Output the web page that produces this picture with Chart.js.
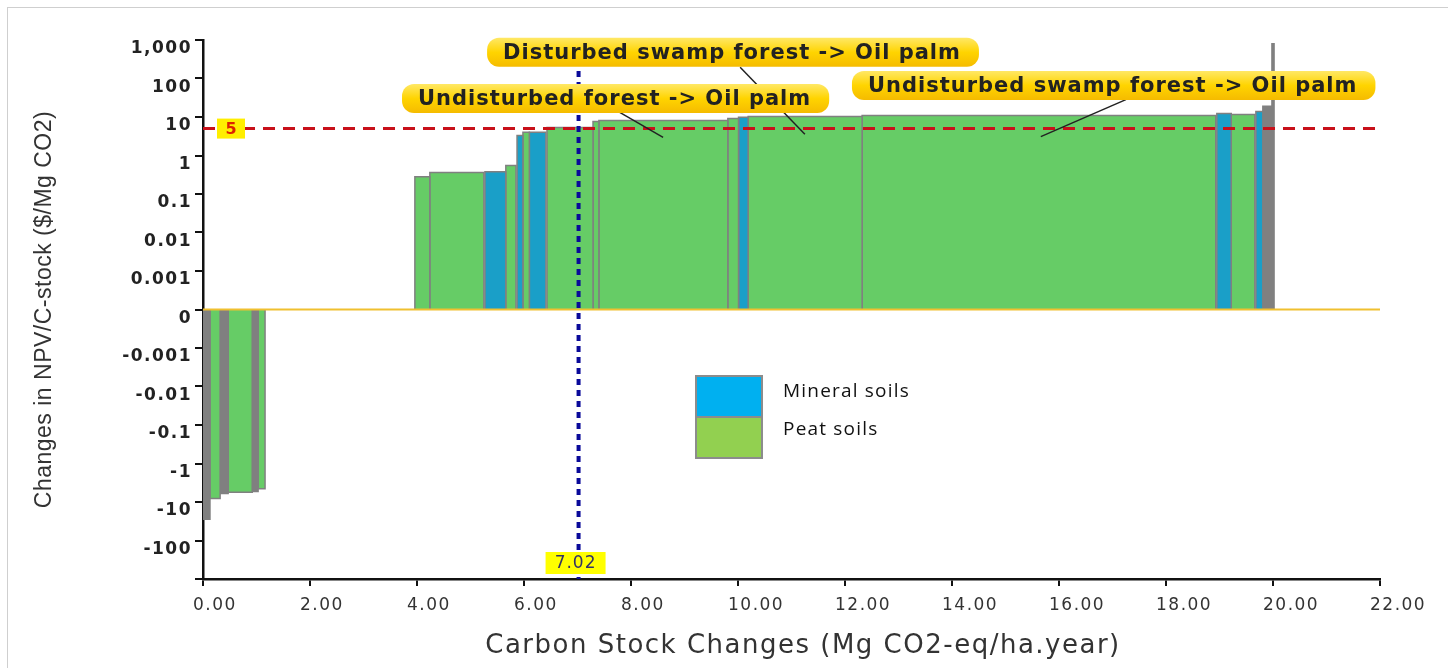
<!DOCTYPE html>
<html>
<head>
<meta charset="utf-8">
<script src="https://cdn.jsdelivr.net/npm/chart.js@4.4.1/dist/chart.umd.min.js"></script>
<style>
html, body { margin: 0; padding: 0; background: #fff; overflow: hidden; }
#frame { position: absolute; left: 7px; top: 7px; width: 1460px; height: 680px; border: 1px solid #cfcfcf; }
#costCurve { position: absolute; left: 0; top: 0; }
</style>
</head>
<body>
<div id="frame"></div>
<canvas id="costCurve" width="1448" height="668"></canvas>
<script>
// Bars of the cost curve: x extent (Mg CO2-eq/ha.year), value ($/Mg CO2), soil type
var barStart = [0.00, 0.13, 0.32, 0.47, 0.92, 1.03, 3.96, 4.24, 5.27, 5.66, 5.87, 5.98, 6.10, 6.43, 7.29, 7.40, 9.81, 10.01, 10.19, 12.32, 18.95, 19.22, 19.68, 19.81, 19.98];
var barEnd   = [0.13, 0.32, 0.47, 0.92, 1.03, 1.16, 4.24, 5.25, 5.66, 5.85, 5.98, 6.10, 6.41, 7.29, 7.40, 9.81, 10.01, 10.19, 12.32, 18.93, 19.22, 19.66, 19.81, 20.00, 20.02];
var barValue = [-28, -8.1, -6.0, -5.6, -5.3, -4.5, 0.28, 0.36, 0.38, 0.55, 3.3, 4.0, 4.0, 5.3, 7.6, 8.1, 9.1, 9.8, 10.3, 11, 12.3, 11.6, 13.8, 19, 800];
var barSoil  = ['other', 'peat', 'other', 'peat', 'other', 'peat', 'peat', 'peat', 'mineral', 'peat', 'mineral', 'peat', 'mineral', 'peat', 'peat', 'peat', 'peat', 'mineral', 'peat', 'peat', 'mineral', 'peat', 'mineral', 'other', 'other'];

// y axis is a symmetric log scale, one step per decade
var yTickLabels = ['', '-100', '-10', '-1', '-0.1', '-0.01', '-0.001', '0', '0.001', '0.01', '0.1', '1', '10', '100', '1,000'];

var thresholdValue = 5;
var markerValue = 7.02;

// callouts: text, left x, centre y (axis units), leader line from / to
var noteText  = ['Undisturbed swamp forest -> Oil palm', 'Disturbed swamp forest -> Oil palm', 'Undisturbed forest -> Oil palm'];
var noteX     = [12.13, 5.31, 3.72];
var noteY     = [5.82, 6.68, 5.48];
var leaderX0  = [17.25, 10.04, 7.79];
var leaderY0  = [5.45, 6.29, 5.12];
var leaderX1  = [15.66, 11.25, 8.60];
var leaderY1  = [4.49, 4.55, 4.47];

var legendLabels = ['Mineral soils', 'Peat soils'];

var soilColor = { peat: '#66cc66', mineral: '#1a9fc8', other: '#808080' };

function toAxis(v) {
    if (v === 0) return 0;
    var s = v > 0 ? 1 : -1;
    return s * (Math.log10(Math.abs(v)) + 4);
}

var barSets = barValue.map(function (v, i) {
    var y = toAxis(v);
    return {
        data: [
            { x: barStart[i], y: 0 },
            { x: barStart[i], y: y },
            { x: barEnd[i], y: y },
            { x: barEnd[i], y: 0 }
        ],
        backgroundColor: soilColor[barSoil[i]],
        borderColor: '#808080',
        borderWidth: 1.5,
        borderJoinStyle: 'miter',
        fill: 'origin',
        pointRadius: 0,
        tension: 0
    };
});

function pill(ctx, x, y, w, h, r) {
    ctx.beginPath();
    ctx.moveTo(x + r, y);
    ctx.lineTo(x + w - r, y);
    ctx.arcTo(x + w, y, x + w, y + r, r);
    ctx.lineTo(x + w, y + h - r);
    ctx.arcTo(x + w, y + h, x + w - r, y + h, r);
    ctx.lineTo(x + r, y + h);
    ctx.arcTo(x, y + h, x, y + h - r, r);
    ctx.lineTo(x, y + r);
    ctx.arcTo(x, y, x + r, y, r);
    ctx.closePath();
}

var overlay = {
    id: 'overlay',
    beforeDraw: function (chart) {
        chart.ctx.letterSpacing = '1.5px';
    },
    afterDatasetsDraw: function (chart) {
        var ctx = chart.ctx, xs = chart.scales.x, ys = chart.scales.y, area = chart.chartArea;
        ctx.save();

        // zero line
        var y0 = ys.getPixelForValue(0);
        ctx.strokeStyle = '#f0c030';
        ctx.lineWidth = 2;
        ctx.beginPath();
        ctx.moveTo(area.left, y0);
        ctx.lineTo(area.right, y0);
        ctx.stroke();

        // threshold line
        var yT = ys.getPixelForValue(toAxis(thresholdValue));
        ctx.strokeStyle = '#c8101a';
        ctx.lineWidth = 3;
        ctx.setLineDash([12, 8]);
        ctx.beginPath();
        ctx.moveTo(area.left, yT);
        ctx.lineTo(area.right, yT);
        ctx.stroke();

        // marker line
        var xM = xs.getPixelForValue(markerValue);
        ctx.strokeStyle = '#0a0a9a';
        ctx.lineWidth = 4;
        ctx.setLineDash([6, 5]);
        ctx.beginPath();
        ctx.moveTo(xM, area.top - 2);
        ctx.lineTo(xM, area.bottom);
        ctx.stroke();
        ctx.setLineDash([]);

        // leader lines
        ctx.strokeStyle = '#222';
        ctx.lineWidth = 1.5;
        for (var i = 0; i < noteText.length; i++) {
            ctx.beginPath();
            ctx.moveTo(xs.getPixelForValue(leaderX0[i]), ys.getPixelForValue(leaderY0[i]));
            ctx.lineTo(xs.getPixelForValue(leaderX1[i]), ys.getPixelForValue(leaderY1[i]));
            ctx.stroke();
        }

        // callouts
        ctx.save();
        ctx.beginPath();
        ctx.rect(0, 0, area.right + 3, chart.height);
        ctx.clip();
        ctx.font = 'bold 21px "DejaVu Sans"';
        ctx.letterSpacing = '1px';
        ctx.textBaseline = 'middle';
        ctx.textAlign = 'left';
        for (var j = 0; j < noteText.length; j++) {
            var left = xs.getPixelForValue(noteX[j]);
            var cy = ys.getPixelForValue(noteY[j]);
            var w = ctx.measureText(noteText[j]).width + 34;
            var h = 29;
            var g = ctx.createLinearGradient(0, cy - h / 2, 0, cy + h / 2);
            g.addColorStop(0, '#ffe866');
            g.addColorStop(0.5, '#ffd400');
            g.addColorStop(1, '#f5bb00');
            ctx.fillStyle = g;
            pill(ctx, left, cy - h / 2, w, h, 12);
            ctx.fill();
            ctx.fillStyle = '#222';
            ctx.fillText(noteText[j], left + 16, cy + 1);
        }
        ctx.restore();

        // threshold tag
        ctx.fillStyle = '#ffee00';
        ctx.fillRect(area.left + 14, yT - 10, 28, 20);
        ctx.fillStyle = '#dd2200';
        ctx.font = 'bold 16px "DejaVu Sans"';
        ctx.letterSpacing = '0px';
        ctx.textAlign = 'center';
        ctx.textBaseline = 'middle';
        ctx.fillText(String(thresholdValue), area.left + 28, yT + 1);

        // marker tag
        ctx.fillStyle = '#ffff00';
        ctx.fillRect(xM - 33, area.bottom - 27, 60, 22);
        ctx.fillStyle = '#333366';
        ctx.font = '17px "DejaVu Sans"';
        ctx.letterSpacing = '1px';
        ctx.fillText(markerValue.toFixed(2), xM - 3, area.bottom - 15);

        ctx.restore();
    },
    afterDraw: function (chart) {
        var ctx = chart.ctx, area = chart.chartArea;
        ctx.save();

        // axis titles
        ctx.fillStyle = '#333';
        ctx.textAlign = 'center';
        ctx.textBaseline = 'middle';
        ctx.font = '26px "DejaVu Sans"';
        ctx.letterSpacing = '1.5px';
        ctx.fillText('Carbon Stock Changes (Mg CO2-eq/ha.year)', 803, 646);
        ctx.save();
        ctx.translate(45, (area.top + area.bottom) / 2);
        ctx.rotate(-Math.PI / 2);
        ctx.font = '23px "Liberation Sans"';
        ctx.letterSpacing = '0.5px';
        ctx.fillText('Changes in NPV/C-stock ($/Mg CO2)', 0, 0);
        ctx.restore();

        // legend
        var lx = 696, ly = 376;
        var legendFill = ['#00b0f0', '#92d050'];
        ctx.strokeStyle = '#8c8c8c';
        ctx.lineWidth = 2;
        ctx.font = '19px "Open Sans"';
        ctx.letterSpacing = '1.2px';
        ctx.textAlign = 'left';
        for (var k = 0; k < legendLabels.length; k++) {
            ctx.fillStyle = legendFill[k];
            ctx.fillRect(lx, ly + k * 41, 66, 41);
            ctx.strokeRect(lx, ly + k * 41, 66, 41);
            ctx.fillStyle = '#111';
            ctx.fillText(legendLabels[k], 783, ly + 16 + k * 38);
        }
        ctx.restore();
    }
};

new Chart(document.getElementById('costCurve'), {
    type: 'line',
    data: { datasets: barSets },
    options: {
        responsive: false,
        animation: false,
        events: [],
        layout: { padding: { top: 40, right: 68, left: 0, bottom: 0 } },
        plugins: {
            legend: { display: false },
            tooltip: { enabled: false }
        },
        scales: {
            x: {
                type: 'linear',
                min: 0,
                max: 22,
                z: 1,
                afterFit: function (scale) { scale.height = 89; },
                ticks: {
                    stepSize: 2,
                    autoSkip: false,
                    maxRotation: 0,
                    align: 'start',
                    labelOffset: -10,
                    padding: 9,
                    color: '#333',
                    font: { family: 'DejaVu Sans', size: 17 },
                    callback: function (v) { return v.toFixed(2); }
                },
                grid: { drawOnChartArea: false, tickLength: 7, color: '#111', lineWidth: 2 },
                border: { color: '#111', width: 2.5 }
            },
            y: {
                type: 'linear',
                min: -7,
                max: 7,
                z: 1,
                afterFit: function (scale) { scale.width = 203; },
                ticks: {
                    stepSize: 1,
                    autoSkip: false,
                    labelOffset: 9,
                    padding: 3,
                    color: '#222',
                    font: { family: 'DejaVu Sans', size: 17, weight: 'bold' },
                    callback: function (v) { return yTickLabels[v + 7]; }
                },
                grid: { drawOnChartArea: false, tickLength: 8, color: '#111', lineWidth: 2 },
                border: { color: '#111', width: 2.5 }
            }
        }
    },
    plugins: [overlay]
});
</script>
</body>
</html>
